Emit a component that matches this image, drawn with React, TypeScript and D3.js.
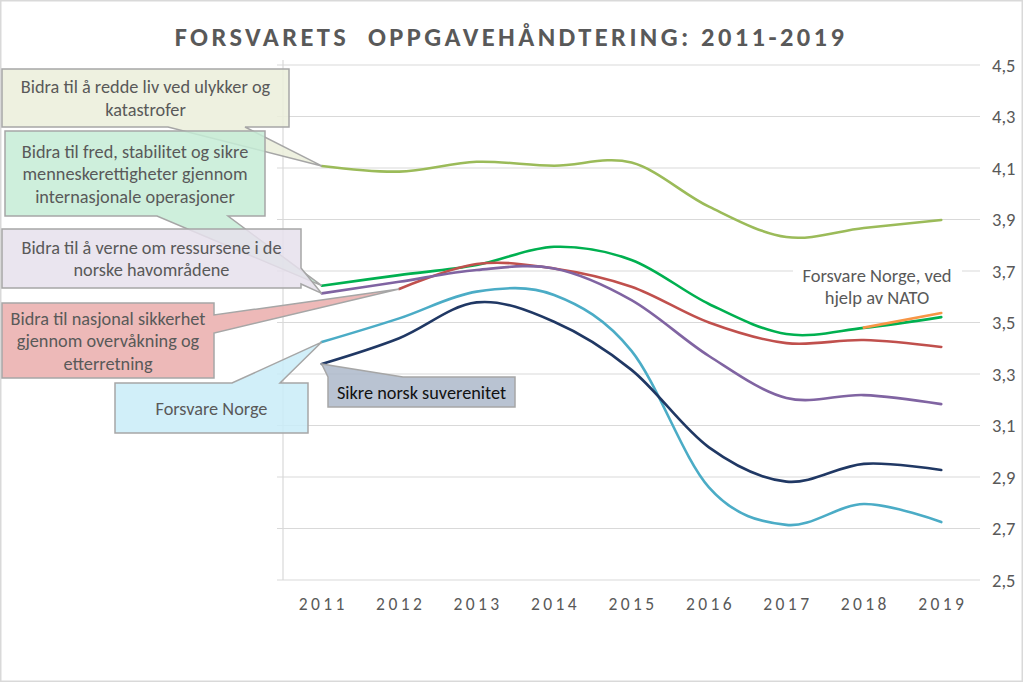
import React from "react";
import * as d3 from "d3";

const years = ["2011", "2012", "2013", "2014", "2015", "2016", "2017", "2018", "2019"];
const yTicks = [2.5, 2.7, 2.9, 3.1, 3.3, 3.5, 3.7, 3.9, 4.1, 4.3, 4.5];

const reddeLiv = [4.108, 4.086, 4.124, 4.109, 4.121, 3.95, 3.832, 3.867, 3.898];
const fredStabilitet = [3.643, 3.684, 3.723, 3.794, 3.743, 3.572, 3.455, 3.479, 3.521];
const nasjonalSikkerhet = [null, 3.63, 3.727, 3.71, 3.639, 3.5, 3.42, 3.432, 3.405];
const verneHavomrader = [3.613, 3.658, 3.704, 3.71, 3.587, 3.37, 3.207, 3.218, 3.183];
const forsvareNorge = [3.424, 3.516, 3.62, 3.607, 3.39, 2.86, 2.714, 2.795, 2.725];
const sikreSuverenitet = [3.339, 3.439, 3.578, 3.503, 3.316, 3.015, 2.882, 2.951, 2.927];
const forsvareNato = [null, null, null, null, null, null, null, 3.48, 3.537];

const seriesList = [
  { name: "Bidra til å redde liv ved ulykker og katastrofer", values: reddeLiv, color: "#9BBB59" },
  { name: "Bidra til fred, stabilitet og sikre menneskerettigheter gjennom internasjonale operasjoner", values: fredStabilitet, color: "#00B050" },
  { name: "Bidra til nasjonal sikkerhet gjennom overvåkning og etterretning", values: nasjonalSikkerhet, color: "#C0504D" },
  { name: "Bidra til å verne om ressursene i de norske havområdene", values: verneHavomrader, color: "#8064A2" },
  { name: "Forsvare Norge", values: forsvareNorge, color: "#4BACC6" },
  { name: "Sikre norsk suverenitet", values: sikreSuverenitet, color: "#203864" },
  { name: "Forsvare Norge, ved hjelp av NATO", values: forsvareNato, color: "#F79646" },
];

const FONT = "Carlito, Calibri, Lato, 'Open Sans', sans-serif";

type Side = "top" | "bottom" | "right";
function calloutPath(x: number, y: number, w: number, h: number, side: Side, b1: number, b2: number, tx: number, ty: number) {
  const r = x + w, b = y + h;
  if (side === "top")
    return `M${x},${y}L${b1},${y}L${tx},${ty}L${b2},${y}L${r},${y}L${r},${b}L${x},${b}Z`;
  if (side === "bottom")
    return `M${x},${y}L${r},${y}L${r},${b}L${b2},${b}L${tx},${ty}L${b1},${b}L${x},${b}Z`;
  return `M${x},${y}L${r},${y}L${r},${b1}L${tx},${ty}L${r},${b2}L${r},${b}L${x},${b}Z`;
}

export default function App() {
  const W = 1024, H = 683;
  const x = d3.scalePoint<string>().domain(years).range([283, 980]).padding(0.5);
  const y = d3.scaleLinear().domain([2.5, 4.5]).range([580, 65]);
  const line = d3
    .line<number | null>()
    .defined((d) => d !== null)
    .x((_, i) => x(years[i]) as number)
    .y((d) => y(d as number))
    .curve(d3.curveCatmullRom.alpha(0));

  const px = (si: number, yi: number) => x(years[yi]) as number;
  const py = (si: number, yi: number) => y(seriesList[si].values[yi] as number);

  const callouts = [
    { si: 0, yi: 0, rect: [2, 69, 287, 58], side: "bottom" as Side, b: [168, 245], fill: "#EBEFDA",
      lines: ["Bidra til å redde liv ved ulykker og", "katastrofer"], color: "#595959" },
    { si: 1, yi: 0, rect: [5, 131, 260, 85], side: "bottom" as Side, b: [157, 228], fill: "#C6ECD6",
      lines: ["Bidra til fred, stabilitet og sikre", "menneskerettigheter gjennom", "internasjonale operasjoner"], color: "#595959" },
    { si: 3, yi: 0, rect: [2, 229, 299, 59], side: "right" as Side, b: [268, 284], fill: "#E6E0EC",
      lines: ["Bidra til å verne om ressursene i de", "norske havområdene"], color: "#595959" },
    { si: 2, yi: 1, rect: [2, 303, 212, 75], side: "right" as Side, b: [315, 333], fill: "#EAADAC",
      lines: ["Bidra til nasjonal sikkerhet", "gjennom overvåkning og", "etterretning"], color: "#595959" },
    { si: 4, yi: 0, rect: [115, 383, 193, 50], side: "top" as Side, b: [232, 280], fill: "#C9ECF8",
      lines: ["Forsvare Norge"], color: "#595959" },
    { si: 5, yi: 0, rect: [328, 377, 187, 30], side: "top" as Side, b: [328, 403], fill: "#ADB9CA",
      lines: ["Sikre norsk suverenitet"], color: "#111111" },
  ];

  return (
    <svg width={W} height={H} style={{ position: "absolute", left: 0, top: 0, background: "#fff" }}>
      <rect x={0.75} y={0.75} width={W - 2.5} height={H - 2.5} fill="#fff" stroke="#D9D9D9" strokeWidth={1.5} />
      <text x={511} y={46} textAnchor="middle" fontFamily={FONT} fontWeight="bold" fontSize={26.5}
        letterSpacing={3.4} fill="#595959" style={{ whiteSpace: "pre" }}>
        {"FORSVARETS  OPPGAVEHÅNDTERING: 2011-2019"}
      </text>

      {/* gridlines */}
      {yTicks.map((t) => (
        <line key={t} x1={277} x2={980} y1={y(t)} y2={y(t)} stroke="#D9D9D9" strokeWidth={1.2} />
      ))}
      <line x1={283} x2={283} y1={60} y2={580} stroke="#D9D9D9" strokeWidth={1.2} />

      {/* y labels */}
      {yTicks.map((t) => (
        <text key={"l" + t} x={992} y={y(t) + 6.5} fontFamily={FONT} fontSize={18.5} fill="#595959">
          {t.toFixed(1).replace(".", ",")}
        </text>
      ))}
      {/* x labels */}
      {years.map((yr) => (
        <text key={yr} x={(x(yr) as number) + 1.5} y={610} textAnchor="middle" fontFamily={FONT} fontSize={17.5}
          letterSpacing={3.4} fill="#595959">
          {yr}
        </text>
      ))}

      {/* NATO label background */}
      <rect x={793} y={262} width={169} height={46} fill="#fff" />
      <text textAnchor="middle" fontFamily={FONT} fontSize={18.5} fill="#595959">
        <tspan x={877} y={282}>Forsvare Norge, ved</tspan>
        <tspan x={877} y={304}>hjelp av NATO</tspan>
      </text>

      {/* series */}
      {seriesList.map((s) => (
        <path key={s.name} d={line(s.values) || ""} fill="none" stroke={s.color} strokeWidth={2.6}
          strokeLinecap="round" strokeLinejoin="round" />
      ))}

      {/* callouts */}
      {callouts.map((c, i) => {
        const [rx, ry, rw, rh] = c.rect;
        const tx = px(c.si, c.yi), ty = py(c.si, c.yi);
        const d = calloutPath(rx, ry, rw, rh, c.side, c.b[0], c.b[1], tx, ty);
        const lh = 22.5;
        const cy = ry + rh / 2;
        const start = cy - ((c.lines.length - 1) * lh) / 2;
        return (
          <g key={i}>
            <path d={d} fill={c.fill} fillOpacity={0.85} stroke="#A6A6A6" strokeWidth={1.5} />
            <text textAnchor="middle" fontFamily={FONT} fontSize={18.3} fill={c.color}>
              {c.lines.map((l, j) => (
                <tspan key={j} x={rx + rw / 2} y={start + j * lh + 6.5}>{l}</tspan>
              ))}
            </text>
          </g>
        );
      })}
    </svg>
  );
}
